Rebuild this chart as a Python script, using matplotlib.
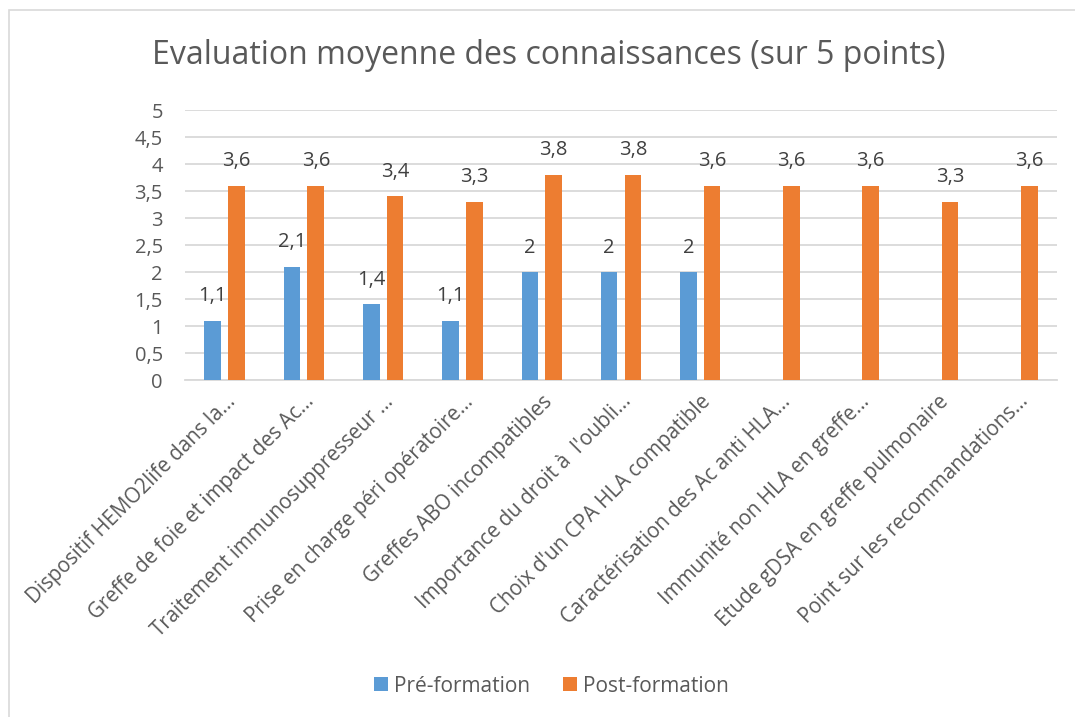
import matplotlib.pyplot as plt
import numpy as np
from matplotlib.patches import Rectangle

categories = [
    "Dispositif HEMO2life dans la...",
    "Greffe de foie et impact des Ac...",
    "Traitement immunosuppresseur ...",
    "Prise en charge péri opératoire...",
    "Greffes ABO incompatibles",
    "Importance du droit à  l'oubli...",
    "Choix d'un CPA HLA compatible",
    "Caractérisation des Ac anti HLA...",
    "Immunité non HLA en greffe...",
    "Etude gDSA en greffe pulmonaire",
    "Point sur les recommandations...",
]
pre = [1.1, 2.1, 1.4, 1.1, 2, 2, 2, np.nan, np.nan, np.nan, np.nan]
post = [3.6, 3.6, 3.4, 3.3, 3.8, 3.8, 3.6, 3.6, 3.6, 3.3, 3.6]
series_names = ["Pré-formation", "Post-formation"]

BLUE = "#5B9BD5"
ORANGE = "#ED7D31"
TXT = "#595959"

plt.rcParams['font.family'] = ['Open Sans', 'DejaVu Sans']

fig = plt.figure(figsize=(10.75, 7.17), dpi=100)
ax = fig.add_axes([185 / 1075, 1 - 380 / 717, 872 / 1075, 270 / 717])

# chart frame (only top/left visible in the reference)
fig.patches.append(Rectangle((9 / 1075, -0.1), 1.2, 1 - 10 / 717 + 0.1,
                             transform=fig.transFigure, fill=False,
                             edgecolor="#d9d9d9", linewidth=1.2))

x = np.arange(len(categories))
w = 0.21
off = 0.15
b1 = ax.bar(x - off, pre, w, color=BLUE, label=series_names[0], zorder=3)
b2 = ax.bar(x + off, post, w, color=ORANGE, label=series_names[1], zorder=3)


def fmt(v):
    return f"{v:g}".replace(".", ",")


for xs, vals in ((x - off, pre), (x + off, post)):
    for xi, v in zip(xs, vals):
        if np.isnan(v):
            continue
        ax.annotate(fmt(v), (xi, v), xytext=(0, 17.5), textcoords="offset points",
                    ha="center", va="center", fontsize=14.5, color="#404040")

ax.set_xlim(-0.5, len(categories) - 0.5)
ax.set_ylim(0, 5)
ax.set_yticks(np.arange(0, 5.01, 0.5))
ax.set_yticklabels([fmt(t) for t in np.arange(0, 5.01, 0.5)])
ax.yaxis.grid(True, color="#d9d9d9", linewidth=1.3, zorder=0)
ax.set_axisbelow(True)
for s in ["top", "right", "left"]:
    ax.spines[s].set_visible(False)
ax.spines["bottom"].set_color("#d9d9d9")
ax.spines["bottom"].set_linewidth(1.3)
ax.tick_params(axis="both", length=0, colors=TXT, labelsize=14.5)
ax.tick_params(axis="y", pad=16)
ax.tick_params(axis="x", pad=8)
ax.set_xticks(x)
ax.set_xticklabels(categories, rotation=45, ha="right", rotation_mode="anchor",
                   fontsize=14.8, color=TXT)

fig.text(0.51, 1 - 55 / 717, "Evaluation moyenne des connaissances (sur 5 points)",
         ha="center", va="center", fontsize=23, color=TXT)

fig.legend(handles=[b1, b2], loc="center", bbox_to_anchor=(0.513, 1 - 686 / 717),
           ncol=2, frameon=False, fontsize=15, handlelength=0.65, handleheight=0.65,
           handletextpad=0.3, columnspacing=1.6, labelcolor=TXT)

fig.savefig("out.png", dpi=100)
